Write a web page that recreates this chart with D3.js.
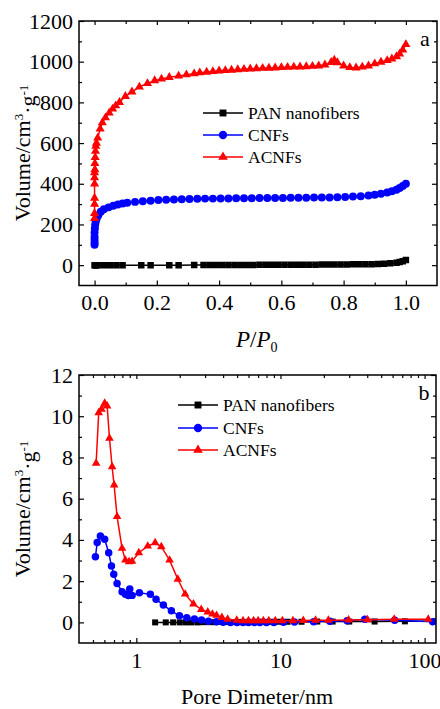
<!DOCTYPE html>
<html><head><meta charset="utf-8">
<script src="https://cdn.jsdelivr.net/npm/d3@7"></script>
<style>
html,body{margin:0;padding:0;background:#fff;}
svg{display:block;}
text{font-family:"Liberation Serif","Times New Roman",serif;fill:#000;}
</style></head>
<body>
<svg id="chart" width="440" height="709"></svg>
<script>
// ---------- DATA ----------
const seriesNames = ["PAN nanofibers", "CNFs", "ACNFs"];
const seriesColors = ["#000000", "#0000ff", "#ff0000"];

// (a) N2 isotherms: [P/P0, Volume]
const panIso = [[0,0],[0.002,0],[0.005,0],[0.01,0],[0.03,0],[0.05,0],[0.07,0],[0.09,0],[0.15,0],[0.18,0],[0.24,0],[0.27,0],[0.32,1],[0.35,1],[0.37,1],[0.39,1],[0.41,1],[0.43,1],[0.45,1],[0.47,1],[0.49,1],[0.51,1],[0.53,2],[0.55,2],[0.57,2],[0.59,2],[0.61,2],[0.63,2],[0.65,2],[0.67,2],[0.69,2],[0.71,2],[0.73,3],[0.75,3],[0.77,3],[0.79,3],[0.81,3],[0.83,4],[0.85,4],[0.87,5],[0.89,5],[0.91,6],[0.93,7],[0.95,9],[0.97,12],[0.98,15],[0.99,19],[1.0,25]];
const cnfIso = [[0,100],[0,110],[0,125],[0,140],[0,160],[0.001,180],[0.002,200],[0.004,215],[0.007,230],[0.012,245],[0.02,262],[0.03,275],[0.045,284],[0.06,292],[0.075,298],[0.09,303],[0.105,307],[0.13,311],[0.155,314],[0.18,317],[0.205,320],[0.23,321],[0.255,323],[0.28,324],[0.305,325],[0.33,326],[0.355,327],[0.38,327],[0.405,328],[0.43,328],[0.455,329],[0.48,329],[0.505,329],[0.53,330],[0.555,330],[0.58,330],[0.605,330],[0.63,331],[0.655,331],[0.68,331],[0.705,332],[0.73,332],[0.755,333],[0.78,334],[0.805,335],[0.83,337],[0.855,339],[0.88,342],[0.9,346],[0.92,351],[0.94,357],[0.955,363],[0.97,371],[0.98,379],[0.99,389],[1.0,400]];
const acnfIso = [[0,230],[0,255],[0,300],[0,330],[0,400],[0,430],[0,455],[0.001,470],[0.001,500],[0.002,530],[0.003,560],[0.004,585],[0.006,600],[0.01,625],[0.018,670],[0.025,700],[0.035,725],[0.047,748],[0.058,768],[0.068,784],[0.08,800],[0.099,830],[0.12,852],[0.144,876],[0.17,893],[0.193,907],[0.215,915],[0.24,923],[0.27,930],[0.295,936],[0.32,941],[0.338,946],[0.36,949],[0.38,952],[0.40,955],[0.42,957],[0.44,959],[0.46,961],[0.48,963],[0.50,965],[0.52,966],[0.54,968],[0.56,969],[0.58,970],[0.60,972],[0.62,973],[0.64,974],[0.66,975],[0.68,976],[0.70,978],[0.72,980],[0.74,985],[0.76,997],[0.77,1008],[0.78,996],[0.80,980],[0.82,972],[0.84,970],[0.86,974],[0.88,980],[0.90,990],[0.92,998],[0.94,1006],[0.955,1014],[0.97,1025],[0.98,1038],[0.99,1058],[1.0,1085]];

// (b) Pore size distribution: [pore diameter nm, Volume]
const panPsd = [[1.35,0],[1.6,0],[1.8,0],[2.0,0],[2.2,0],[2.4,0],[2.65,0],[2.9,0.01],[3.2,0.01],[3.5,0.01],[3.9,0.02],[4.3,0.02],[4.8,0.02],[5.4,0.02],[6,0.03],[6.7,0.03],[7.5,0.03],[8.5,0.03],[9.7,0.03],[11.2,0.03],[14,0.03],[18,0.04],[23,0.04],[30,0.04],[45,0.04],[73,0.05],[120,0.05]];
const cnfPsd = [[0.52,3.18],[0.535,3.87],[0.563,4.19],[0.603,4.03],[0.643,3.38],[0.672,2.73],[0.697,2.34],[0.735,1.89],[0.796,1.49],[0.839,1.37],[0.88,1.30],[0.9,1.62],[0.934,1.31],[1.05,1.44],[1.25,1.36],[1.37,1.12],[1.54,0.84],[1.75,0.56],[1.99,0.32],[2.24,0.22],[2.53,0.16],[2.83,0.11],[3.16,0.06],[3.6,0.03],[4.0,0.01],[4.5,0],[5,0],[5.5,0],[6,0],[6.6,0],[7.2,0],[8,0],[9,0],[10.5,0.01],[12.5,0.02],[17,0.03],[22,0.05],[29,0.08],[38.5,0.15],[62,0.1],[114,0.03]];
const acnfPsd = [[0.526,7.72],[0.548,10.17],[0.573,10.34],[0.603,10.63],[0.627,10.5],[0.651,8.93],[0.679,7.55],[0.701,6.66],[0.735,5.13],[0.796,3.59],[0.839,3.02],[0.89,2.94],[0.934,2.96],[1.04,3.38],[1.2,3.70],[1.35,3.86],[1.49,3.67],[1.7,3.02],[1.94,2.09],[2.18,1.37],[2.49,0.89],[2.82,0.63],[3.13,0.5],[3.37,0.40],[3.6,0.34],[3.92,0.24],[4.3,0.15],[4.97,0.1],[5.5,0.08],[6,0.08],[6.5,0.08],[7,0.08],[7.6,0.08],[8.3,0.08],[9.2,0.08],[10.3,0.08],[12.2,0.08],[14.4,0.09],[17.5,0.1],[21.5,0.1],[29.7,0.12],[40.2,0.13],[61.5,0.15],[106,0.15]];

// ticks
const aXMajor = [0, 0.2, 0.4, 0.6, 0.8, 1.0];
const aXMinor = [0.1, 0.3, 0.5, 0.7, 0.9];
const aYMajor = [0, 200, 400, 600, 800, 1000, 1200];
const aYMinor = [100, 300, 500, 700, 900, 1100];
const bXMajor = [1, 10, 100];
const bXMinor = [0.5,0.6,0.7,0.8,0.9,2,3,4,5,6,7,8,9,20,30,40,50,60,70,80,90];
const bYMajor = [0, 2, 4, 6, 8, 10, 12];
const bYMinor = [1, 3, 5, 7, 9, 11];

// ---------- DRAW ----------
const svg = d3.select("#chart");
const symbols = [d3.symbolSquare, d3.symbolCircle, d3.symbolTriangle];

function panel(cfg) {
  const {x, y, xMajor, xMinor, yMajor, yMinor, xFmt, yFmt, series, symSizes} = cfg;
  const [x0, x1] = x.range(), [y0, y1] = y.range();
  const g = svg.append("g");
  const clipId = "clip" + Math.random().toString(36).slice(2);
  g.append("clipPath").attr("id", clipId).append("rect")
    .attr("x", x0).attr("y", y1).attr("width", x1 - x0).attr("height", y0 - y1);

  // axes
  const styleAxis = sel => { sel.select(".domain").remove(); sel.selectAll("line").attr("stroke", "#000").attr("stroke-width", 1.2); sel.selectAll("text").style("font-size", "22px").style("font-family", '"Liberation Serif","Times New Roman",serif'); };
  g.append("g").attr("transform", `translate(0,${y0})`)
    .call(d3.axisBottom(x).tickValues(xMajor).tickFormat(xFmt).tickSize(-5).tickPadding(9)).call(styleAxis);
  g.append("g").attr("transform", `translate(0,${y0})`)
    .call(d3.axisBottom(x).tickValues(xMinor).tickFormat("").tickSize(-3)).call(styleAxis);
  g.append("g").attr("transform", `translate(0,${y1})`)
    .call(d3.axisTop(x).tickValues(xMajor).tickFormat("").tickSize(-4)).call(styleAxis);
  g.append("g").attr("transform", `translate(0,${y1})`)
    .call(d3.axisTop(x).tickValues(xMinor).tickFormat("").tickSize(-3)).call(styleAxis);
  g.append("g").attr("transform", `translate(${x0},0)`)
    .call(d3.axisLeft(y).tickValues(yMajor).tickFormat(yFmt).tickSize(-5).tickPadding(6)).call(styleAxis);
  g.append("g").attr("transform", `translate(${x0},0)`)
    .call(d3.axisLeft(y).tickValues(yMinor).tickFormat("").tickSize(-3)).call(styleAxis);
  g.append("g").attr("transform", `translate(${x1},0)`)
    .call(d3.axisRight(y).tickValues(yMajor).tickFormat("").tickSize(-5)).call(styleAxis);
  g.append("g").attr("transform", `translate(${x1},0)`)
    .call(d3.axisRight(y).tickValues(yMinor).tickFormat("").tickSize(-3)).call(styleAxis);

  // series
  const dg = g.append("g").attr("clip-path", `url(#${clipId})`);
  series.forEach((s, i) => {
    dg.append("path").datum(s)
      .attr("fill", "none").attr("stroke", seriesColors[i]).attr("stroke-width", 1.5)
      .attr("d", d3.line().x(d => x(d[0])).y(d => y(d[1])));
    dg.selectAll(null).data(s).enter().append("path")
      .attr("transform", d => `translate(${x(d[0])},${y(d[1])})`)
      .attr("d", d3.symbol().type(symbols[i]).size(symSizes[i]))
      .attr("fill", seriesColors[i]);
  });

  // frame
  g.append("rect").attr("x", x0).attr("y", y1).attr("width", x1 - x0).attr("height", y0 - y1)
    .attr("fill", "none").attr("stroke", "#000").attr("stroke-width", 1.5);
  return g;
}

function legend(lx1, lx2, tx, rows, symSizes) {
  rows.forEach((ry, i) => {
    svg.append("line").attr("x1", lx1).attr("x2", lx2).attr("y1", ry).attr("y2", ry)
      .attr("stroke", seriesColors[i]).attr("stroke-width", 1.5);
    svg.append("path").attr("transform", `translate(${(lx1 + lx2) / 2},${ry})`)
      .attr("d", d3.symbol().type(symbols[i]).size(symSizes[i])).attr("fill", seriesColors[i]);
    svg.append("text").attr("x", tx).attr("y", ry + 6).style("font-size", "17.5px").text(seriesNames[i]);
  });
}

function yTitle(cx, cy) {
  const t = svg.append("text").attr("transform", `translate(${cx},${cy}) rotate(-90)`)
    .attr("text-anchor", "middle").style("font-size", "22px");
  t.append("tspan").text("Volume/cm");
  t.append("tspan").attr("dy", "-0.55em").style("font-size", "13px").text("3");
  t.append("tspan").attr("dy", "0.55em").text("·g");
  t.append("tspan").attr("dy", "-0.55em").style("font-size", "13px").text("-1");
}

// Panel (a)
const xA = d3.scaleLinear([-0.05, 1.1], [79, 437]);
const yA = d3.scaleLinear([-100, 1200], [285.5, 21]);
panel({x: xA, y: yA, xMajor: aXMajor, xMinor: aXMinor, yMajor: aYMajor, yMinor: aYMinor,
  xFmt: d3.format(".1f"), yFmt: d3.format("d"), series: [panIso, cnfIso, acnfIso], symSizes: [42, 50, 36]});
legend(203, 243, 248, [113, 135, 157], [48, 55, 40]);
yTitle(30, 153);
const pt = svg.append("text").attr("x", 236).attr("y", 347).style("font-size", "23px");
pt.append("tspan").style("font-style", "italic").text("P");
pt.append("tspan").text("/");
pt.append("tspan").style("font-style", "italic").text("P");
pt.append("tspan").attr("dy", "0.35em").style("font-size", "14px").text("0");
svg.append("text").attr("x", 425).attr("y", 46).attr("text-anchor", "middle").style("font-size", "22px").text("a");

// Panel (b)
const xB = d3.scaleLog([0.4, 120], [79, 436]);
const yB = d3.scaleLinear([-1, 12], [643, 375]);
panel({x: xB, y: yB, xMajor: bXMajor, xMinor: bXMinor, yMajor: bYMajor, yMinor: bYMinor,
  xFmt: d3.format("d"), yFmt: d3.format("d"), series: [panPsd, cnfPsd, acnfPsd], symSizes: [36, 44, 32]});
legend(178, 218, 223, [405, 428, 450], [48, 55, 40]);
yTitle(30, 509);
svg.append("text").attr("x", 257).attr("y", 704).attr("text-anchor", "middle").style("font-size", "22px").text("Pore Dimeter/nm");
svg.append("text").attr("x", 424).attr("y", 400).attr("text-anchor", "middle").style("font-size", "22px").text("b");
</script>
</body></html>
